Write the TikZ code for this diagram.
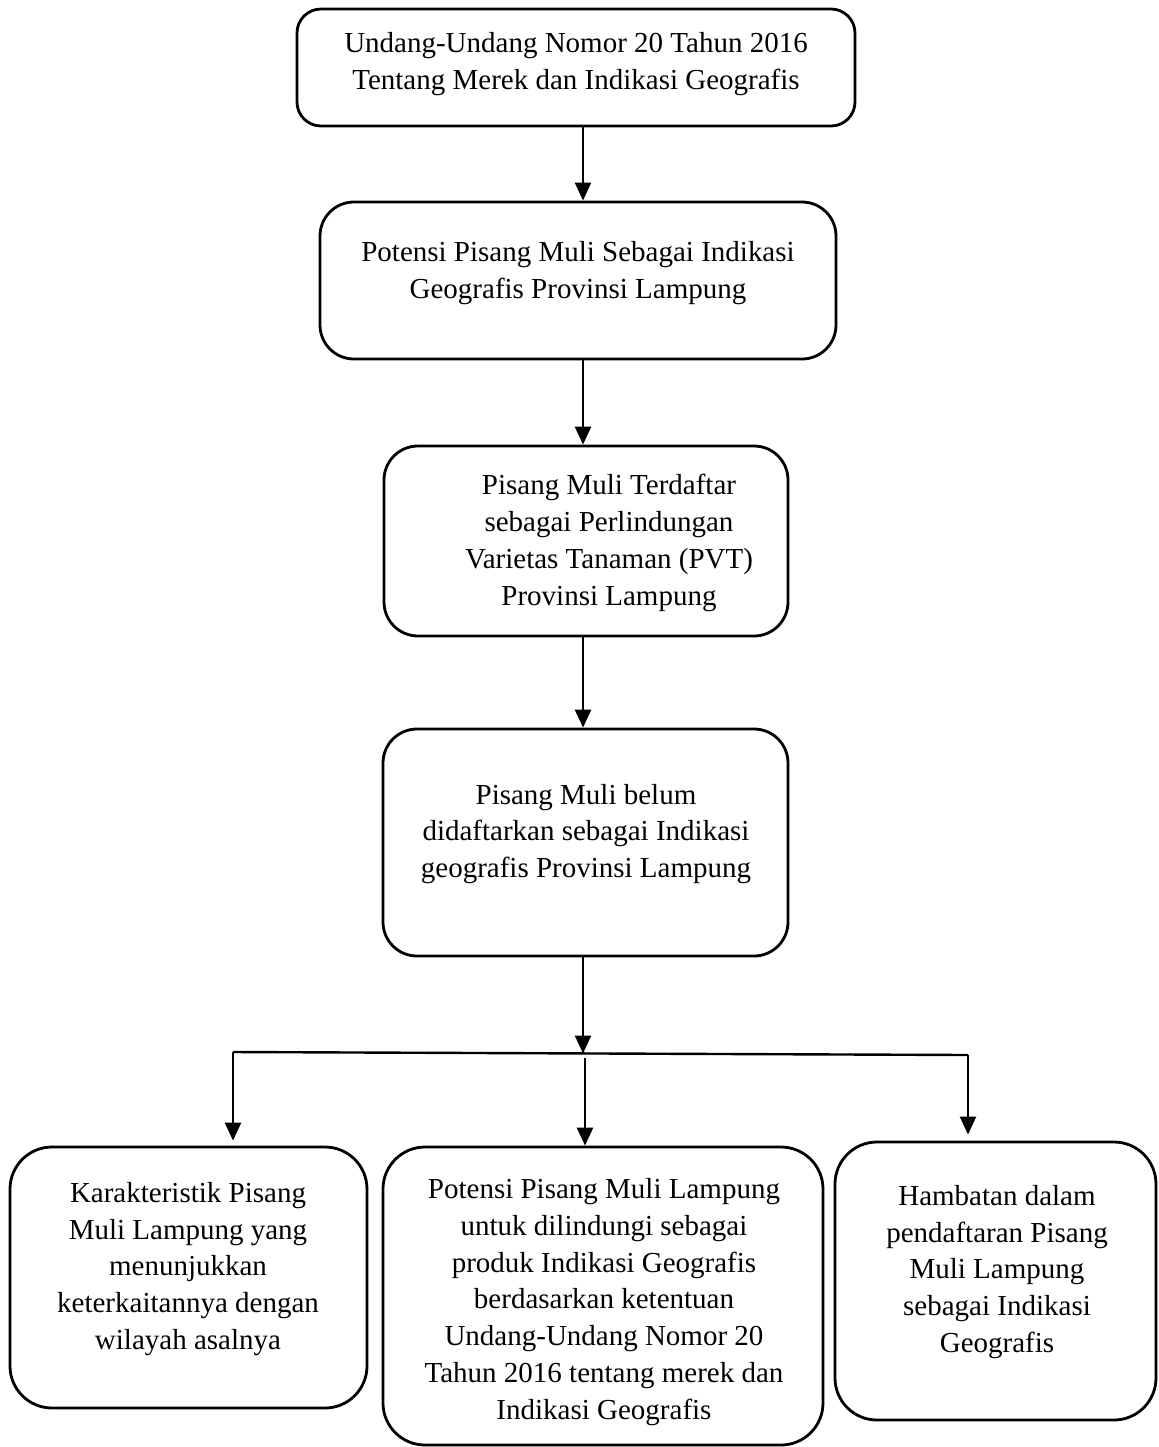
\documentclass[tikz,border=0pt]{standalone}
\usepackage{fontspec}
\setmainfont{Liberation Serif}
\usetikzlibrary{arrows.meta,fit}
\begin{document}
\begin{tikzpicture}[x=0.5pt,y=-0.5pt,
  box/.style={draw, line width=1.4pt, inner sep=0pt, rounded corners=#1},
  box/.default=17pt,
  txt/.style={align=center, inner sep=0pt, font=\fontsize{14.5}{18.4}\selectfont},
  conn/.style={line width=1.2pt},
  arr/.style={line width=1.2pt, -{Triangle[length=9pt,width=8pt]}}]
\useasboundingbox (0,0) rectangle (1158,1447);
% boxes
\node[box=12pt, fit={(297,9) (855,126)}] (b1) {};
\node[box, fit={(320,202) (836,359)}] (b2) {};
\node[box, fit={(384,446) (788,636)}] (b3) {};
\node[box, fit={(383,729) (788,956)}] (b4) {};
\node[box=21pt, fit={(10,1147) (367,1408)}] (b5) {};
\node[box=21pt, fit={(383,1147) (823,1445)}] (b6) {};
\node[box=21pt, fit={(835,1142) (1156,1420)}] (b7) {};
% texts
\node[txt] (t1) at (576,64) {Undang-Undang Nomor 20 Tahun 2016\\Tentang Merek dan Indikasi Geografis};
\node[txt] (t2) at (578,273) {Potensi Pisang Muli Sebagai Indikasi\\Geografis Provinsi Lampung};
\node[txt] (t3) at (609,543) {Pisang Muli Terdaftar\\sebagai Perlindungan\\Varietas Tanaman (PVT)\\Provinsi Lampung};
\node[txt] (t4) at (586,834) {Pisang Muli belum\\didaftarkan sebagai Indikasi\\geografis Provinsi Lampung};
\node[txt] (t5) at (188,1269) {Karakteristik Pisang\\Muli Lampung yang\\menunjukkan\\keterkaitannya dengan\\wilayah asalnya};
\node[txt] (t6) at (604,1302) {Potensi Pisang Muli Lampung\\untuk dilindungi sebagai\\produk Indikasi Geografis\\berdasarkan ketentuan\\Undang-Undang Nomor 20\\Tahun 2016 tentang merek dan\\Indikasi Geografis};
\node[txt] (t7) at (997,1272) {Hambatan dalam\\pendaftaran Pisang\\Muli Lampung\\sebagai Indikasi\\Geografis};
% connector coordinates
\coordinate (ax) at (583,0);
\coordinate (busL) at (233,1052);
\coordinate (busR) at (968,1055);
\coordinate (busM) at (583,1053.5);
\coordinate (mtop) at (585,1058);
% connectors
\draw[arr] (b1.south -| ax) -- (b2.north -| ax);
\draw[arr] (b2.south -| ax) -- (b3.north -| ax);
\draw[arr] (b3.south -| ax) -- (b4.north -| ax);
\draw[arr] (b4.south -| ax) -- (busM);
\draw[conn] (busL) -- (busR);
\draw[arr, shorten >=2.5pt] (busL) -- (b5.north -| busL);
\draw[arr] (mtop) -- (b6.north -| mtop);
\draw[arr, shorten >=3pt] (busR) -- (b7.north -| busR);
\end{tikzpicture}
\end{document}
